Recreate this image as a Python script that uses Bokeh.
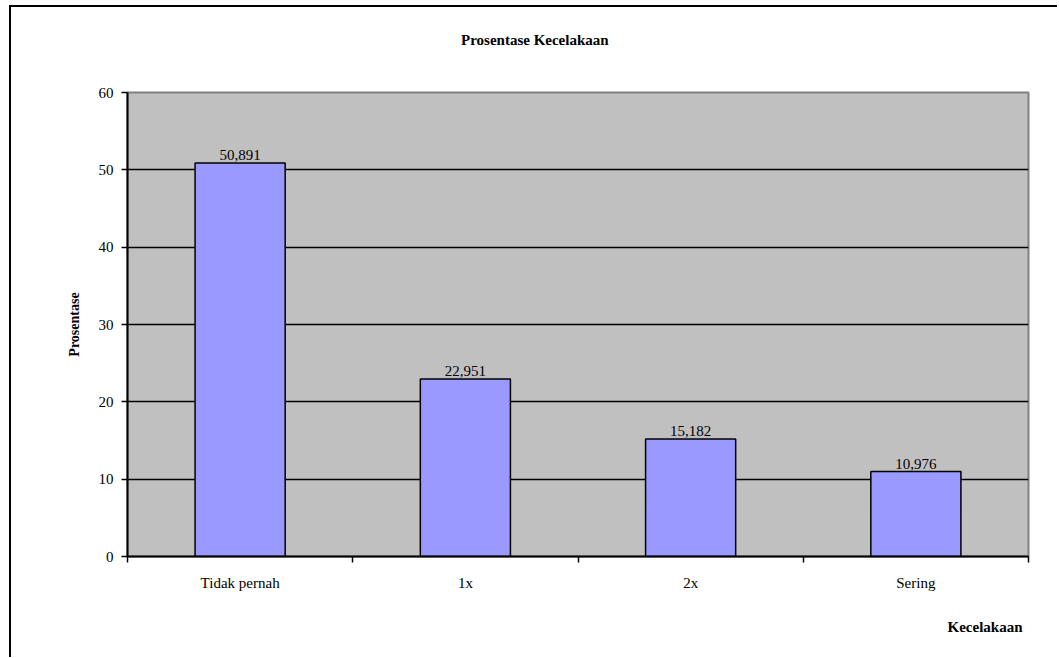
from bokeh.plotting import figure
from bokeh.layouts import column
from bokeh.models import ColumnDataSource, Div, FixedTicker, Range1d, Title
from bokeh.embed import file_html
from bokeh.resources import INLINE

# Data
categories = ["Tidak pernah", "1x", "2x", "Sering"]
persentase = [50.891, 22.951, 15.182, 10.976]
y_ticks = [0, 10, 20, 30, 40, 50, 60]

SERIF = "Liberation Serif"

x_pos = [i + 0.5 for i in range(len(categories))]
labels = [f"{v:.3f}".replace(".", ",") for v in persentase]
source = ColumnDataSource(dict(x=x_pos, y=persentase, label=labels))

# Chart title
title_div = Div(text="Prosentase Kecelakaan", width=300, height=18,
                margin=(24, 0, 0, 450),
                styles={"font-family": SERIF, "font-size": "15px",
                        "font-weight": "bold", "color": "black",
                        "line-height": "18px", "white-space": "nowrap"})

p = figure(width=1046, height=608, output_backend="svg", toolbar_location=None,
           x_range=Range1d(0, len(categories)), y_range=Range1d(0, 60),
           min_border_left=116, min_border_right=29,
           min_border_top=43, min_border_bottom=101, margin=0)

p.background_fill_color = "#C0C0C0"
p.border_fill_color = "white"
p.outline_line_color = "#808080"
p.outline_line_width = 2

# Bars
p.vbar(x="x", top="y", width=0.4, bottom=0, source=source,
       fill_color="#9999FF", line_color="black", line_width=1.5)

# Value labels above bars
p.text(x="x", y="y", text="label", source=source, y_offset=-3,
       text_align="center", text_baseline="bottom",
       text_font={"value": SERIF}, text_font_size="15px", text_color="black")

# X axis: category labels at bar centres, tick marks at category boundaries
xa = p.xaxis[0]
xa.ticker = FixedTicker(ticks=x_pos, minor_ticks=list(range(len(categories) + 1)))
xa.major_label_overrides = {x: c for x, c in zip(x_pos, categories)}
xa.major_tick_line_color = None
xa.major_tick_out = 0
xa.major_tick_in = 0
xa.minor_tick_line_color = "black"
xa.minor_tick_line_width = 1.5
xa.minor_tick_out = 6
xa.minor_tick_in = 0
xa.axis_line_color = "black"
xa.axis_line_width = 2
xa.major_label_standoff = 12
xa.major_label_text_font = SERIF
xa.major_label_text_font_size = "15px"
xa.major_label_text_color = "black"

# Y axis
ya = p.yaxis[0]
ya.ticker = FixedTicker(ticks=y_ticks)
ya.minor_tick_line_color = None
ya.major_tick_line_color = "black"
ya.major_tick_line_width = 1.5
ya.major_tick_out = 6
ya.major_tick_in = 0
ya.axis_line_color = "black"
ya.axis_line_width = 2
ya.major_label_standoff = 8
ya.major_label_text_font = SERIF
ya.major_label_text_font_size = "15px"
ya.major_label_text_color = "black"
ya.axis_label = "Prosentase"
ya.axis_label_text_font = SERIF
ya.axis_label_text_font_size = "14px"
ya.axis_label_text_font_style = "bold"
ya.axis_label_text_color = "black"
ya.axis_label_standoff = 14

# Grid
p.xgrid.grid_line_color = None
p.ygrid.ticker = FixedTicker(ticks=y_ticks[1:-1])
p.ygrid.grid_line_color = "black"
p.ygrid.grid_line_width = 1.5

# X axis name, right-aligned under the axis
p.add_layout(Title(text="Kecelakaan", align="right", offset=6,
                   text_font=SERIF, text_font_size="15px",
                   text_font_style="bold", text_color="black", standoff=46),
             "below")

# Chart area with a black rule along its left and top edges
chart = column(title_div, p, spacing=0, margin=(5, 0, 0, 9),
               styles={"border-left": "2px solid black",
                       "border-top": "2px solid black"})

open("out.html", "w").write(file_html(chart, INLINE))
